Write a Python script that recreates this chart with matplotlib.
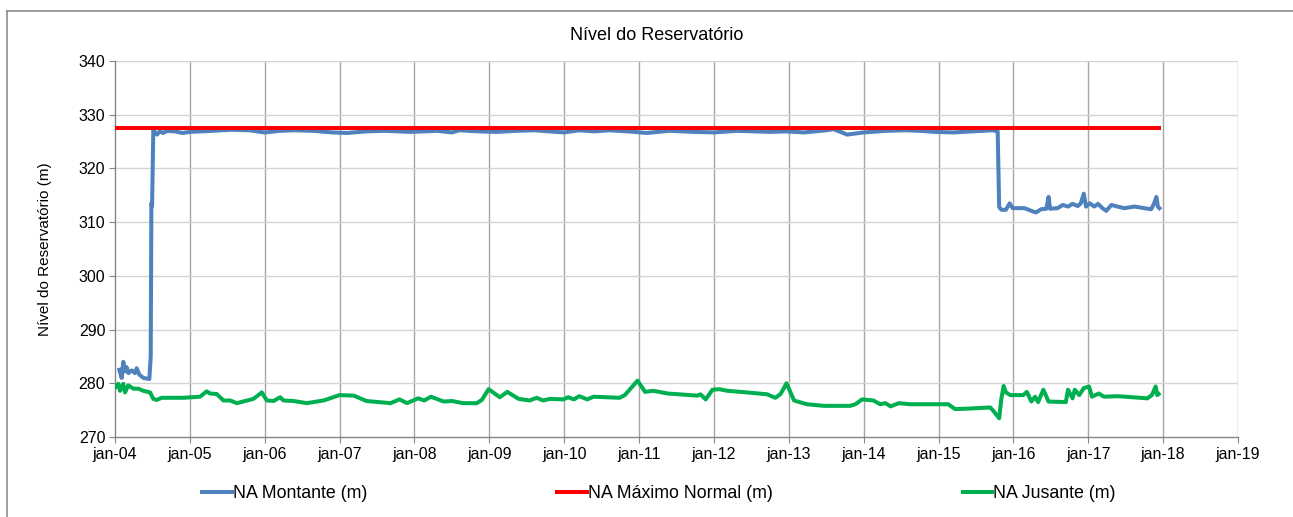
import matplotlib
matplotlib.use('Agg')
import matplotlib.pyplot as plt
from matplotlib.lines import Line2D

plt.rcParams['font.family'] = ['Liberation Sans', 'DejaVu Sans']

# NA Montante (m) - ano decimal / nivel
montante_anos = [2004.058, 2004.089, 2004.111, 2004.134, 2004.156, 2004.178, 2004.223,
                 2004.267, 2004.290, 2004.325, 2004.379, 2004.459, 2004.477, 2004.486,
                 2004.495, 2004.512, 2004.53, 2004.56, 2004.60, 2004.64, 2004.70, 2004.80,
                 2004.90, 2005.00, 2005.30, 2005.55, 2005.80, 2006.00, 2006.20, 2006.40,
                 2006.65, 2006.90, 2007.10, 2007.35, 2007.60, 2007.95, 2008.30, 2008.50,
                 2008.60, 2008.85, 2009.10, 2009.35, 2009.60, 2010.00, 2010.20, 2010.40,
                 2010.60, 2010.85, 2011.10, 2011.40, 2011.75, 2012.00, 2012.30, 2012.55,
                 2012.75, 2012.95, 2013.20, 2013.50, 2013.60, 2013.78, 2014.00, 2014.30,
                 2014.55, 2014.75, 2014.95, 2015.20, 2015.45, 2015.72, 2015.79, 2015.81,
                 2015.84, 2015.90, 2015.95, 2015.99, 2016.15, 2016.24, 2016.30, 2016.37,
                 2016.44, 2016.47, 2016.49, 2016.59, 2016.66, 2016.73, 2016.79, 2016.86,
                 2016.90, 2016.94, 2016.97, 2017.02, 2017.08, 2017.13, 2017.19, 2017.24,
                 2017.31, 2017.39, 2017.48, 2017.62, 2017.75, 2017.84, 2017.88, 2017.91,
                 2017.93, 2017.95]
montante_nivel = [282.5, 281.0, 284.0, 282.2, 283.0, 281.9, 282.4,
                  281.9, 282.8, 281.6, 281.0, 280.8, 285.0, 313.5,
                  313.0, 327.2, 326.8, 326.3, 326.9, 326.6, 327.0, 326.9,
                  326.6, 326.8, 327.0, 327.2, 327.1, 326.7, 327.0, 327.1,
                  327.0, 326.7, 326.6, 326.9, 327.0, 326.8, 327.0, 326.7,
                  327.1, 326.9, 326.8, 327.0, 327.1, 326.7, 327.1, 326.9,
                  327.1, 326.9, 326.6, 327.0, 326.8, 326.7, 327.0, 326.9,
                  326.8, 326.9, 326.7, 327.1, 327.3, 326.3, 326.7, 327.0,
                  327.1, 327.0, 326.8, 326.7, 326.9, 327.1, 326.9, 312.8,
                  312.3, 312.3, 313.5, 312.6, 312.6, 312.1, 311.8, 312.4,
                  312.5, 314.7, 312.5, 312.6, 313.2, 312.9, 313.4, 313.0,
                  313.5, 315.3, 312.9, 313.5, 312.9, 313.4, 312.6, 312.1,
                  313.2, 312.9, 312.6, 312.9, 312.6, 312.4, 313.5, 314.7,
                  312.9, 312.6]

# NA Maximo Normal (m)
maximo_anos = [2004.0, 2017.95]
maximo_nivel = [327.5, 327.5]

# NA Jusante (m)
jusante_anos = [2004.013, 2004.045, 2004.067, 2004.111, 2004.134, 2004.178, 2004.245,
                2004.312, 2004.379, 2004.468, 2004.512, 2004.557, 2004.624, 2004.914,
                2005.136, 2005.225, 2005.270, 2005.359, 2005.448, 2005.537, 2005.627,
                2005.849, 2005.961, 2006.028, 2006.117, 2006.206, 2006.250, 2006.384,
                2006.562, 2006.785, 2007.00, 2007.19, 2007.36, 2007.68, 2007.80, 2007.90,
                2008.05, 2008.13, 2008.22, 2008.39, 2008.50, 2008.65, 2008.83, 2008.90,
                2008.99, 2009.14, 2009.24, 2009.39, 2009.54, 2009.63, 2009.72, 2009.81,
                2009.99, 2010.05, 2010.13, 2010.20, 2010.31, 2010.39, 2010.74, 2010.81,
                2010.98, 2011.08, 2011.19, 2011.38, 2011.78, 2011.82, 2011.89, 2011.98,
                2012.07, 2012.18, 2012.44, 2012.71, 2012.82, 2012.89, 2012.97, 2013.07,
                2013.24, 2013.47, 2013.82, 2013.89, 2013.98, 2014.13, 2014.22, 2014.29,
                2014.36, 2014.47, 2014.62, 2015.13, 2015.22, 2015.42, 2015.69, 2015.73,
                2015.81, 2015.84, 2015.87, 2015.90, 2015.96, 2016.13, 2016.18, 2016.24,
                2016.29, 2016.33, 2016.40, 2016.47, 2016.70, 2016.73, 2016.79, 2016.82,
                2016.88, 2016.94, 2017.01, 2017.05, 2017.14, 2017.21, 2017.39, 2017.79,
                2017.85, 2017.90, 2017.92, 2017.94]
jusante_nivel = [279.35, 279.9, 278.6, 279.9, 278.3, 279.6, 279.0,
                 279.0, 278.6, 278.3, 277.1, 276.9, 277.3, 277.3,
                 277.5, 278.5, 278.1, 278.0, 276.8, 276.8, 276.3,
                 277.1, 278.3, 276.8, 276.7, 277.4, 276.8, 276.7,
                 276.3, 276.8, 277.8, 277.7, 276.7, 276.3, 277.0, 276.3,
                 277.2, 276.8, 277.5, 276.6, 276.7, 276.3, 276.3, 276.9,
                 278.9, 277.4, 278.4, 277.1, 276.8, 277.3, 276.8, 277.1,
                 277.0, 277.4, 277.0, 277.6, 277.0, 277.5, 277.3, 277.8,
                 280.5, 278.4, 278.6, 278.1, 277.7, 277.95, 277.0, 278.8,
                 278.9, 278.6, 278.3, 277.95, 277.3, 278.0, 280.0, 276.8,
                 276.1, 275.8, 275.8, 276.1, 277.0, 276.8, 276.1, 276.3,
                 275.7, 276.3, 276.1, 276.1, 275.2, 275.3, 275.5, 274.9,
                 273.5, 277.2, 279.5, 278.3, 277.8, 277.8, 278.4, 276.6,
                 277.5, 276.5, 278.8, 276.6, 276.5, 278.8, 277.2, 278.8,
                 277.8, 279.1, 279.4, 277.5, 278.1, 277.5, 277.6, 277.2,
                 277.8, 279.4, 277.8, 278.0]

anos_ticks = list(range(2004, 2020))
rotulos_x = ['jan-%02d' % (a % 100) for a in anos_ticks]
niveis_y = list(range(270, 341, 10))

fig = plt.figure(figsize=(12.93, 5.17), dpi=100)
ax = fig.add_axes([115 / 1293, 1 - 437 / 517, 1123 / 1293, 376 / 517])

ax.plot(montante_anos, montante_nivel, color='#4f81bd', lw=2.9, label='NA Montante (m)',
        solid_joinstyle='round', zorder=3)
ax.plot(maximo_anos, maximo_nivel, color='#ff0000', lw=2.9, label='NA Máximo Normal (m)', zorder=4)
ax.plot(jusante_anos, jusante_nivel, color='#00b050', lw=2.9, label='NA Jusante (m)',
        solid_joinstyle='round', zorder=3)

ax.set_xlim(2004, 2019)
ax.set_ylim(270, 340)
ax.set_xticks(anos_ticks)
ax.set_xticklabels(rotulos_x)
ax.set_yticks(niveis_y)

# grade: verticais mais escuras, horizontais claras
for a in anos_ticks[1:]:
    ax.axvline(a, color='#a6a6a6', lw=1.0, zorder=1)
for n in niveis_y[1:]:
    ax.axhline(n, color='#d4d4d4', lw=1.0, zorder=1)

for s in ['top', 'right']:
    ax.spines[s].set_visible(False)
for s in ['left', 'bottom']:
    ax.spines[s].set_color('#868686')
    ax.spines[s].set_linewidth(1.0)
ax.tick_params(axis='both', direction='out', length=4, color='#868686', labelsize=11.5,
               labelcolor='black')
ax.tick_params(axis='x', pad=3)
ax.tick_params(axis='y', pad=3)

ax.set_ylabel('Nível do Reservatório (m)', fontsize=11)
ax.yaxis.set_label_coords(-0.056, 0.5)

fig.text(657 / 1293, 1 - 35 / 517, 'Nível do Reservatório', ha='center', va='center', fontsize=13)

handles = [Line2D([], [], color='#4f81bd', lw=2.9),
           Line2D([], [], color='#ff0000', lw=2.9),
           Line2D([], [], color='#00b050', lw=2.9)]
labels = ['NA Montante (m)', 'NA Máximo Normal (m)', 'NA Jusante (m)']
fig.legend(handles, labels, loc='center', ncol=3, frameon=False, fontsize=12.8,
           bbox_to_anchor=(659 / 1293, 1 - 494 / 517), handlelength=1.65,
           handletextpad=0.06, columnspacing=10.7)

# moldura do grafico
fig.add_artist(Line2D([7 / 1293, 7 / 1293], [0, 1 - 11 / 517], transform=fig.transFigure,
                      color='#8c8c8c', lw=1.2))
fig.add_artist(Line2D([7 / 1293, 1], [1 - 11 / 517, 1 - 11 / 517], transform=fig.transFigure,
                      color='#8c8c8c', lw=1.2))

fig.savefig('out.png', dpi=100)
